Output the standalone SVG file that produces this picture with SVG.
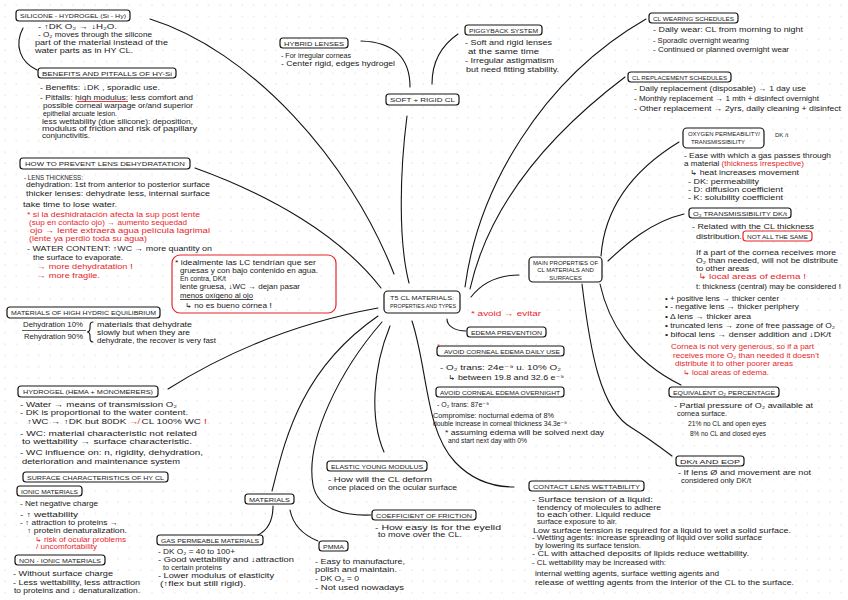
<svg xmlns="http://www.w3.org/2000/svg" width="848" height="600" viewBox="0 0 848 600">
<defs>
<pattern id="dots" x="4" y="4" width="11.3" height="11.3" patternUnits="userSpaceOnUse"><circle cx="1" cy="1" r="0.6" fill="#c9c9c9"/></pattern>
<style>
.bx{fill:none;stroke:#151515;stroke-width:1.2}
.rb{fill:none;stroke:#e8262b;stroke-width:1.2}
.c{fill:none;stroke:#151515;stroke-width:1.1;stroke-linecap:round}
text{font-family:"Liberation Sans","DejaVu Sans",sans-serif;font-size:6.8px;fill:#1a1a1a}
.h{font-size:6px}
.r{fill:#e8262b}
.big{font-size:8px}
</style>
</defs>
<rect width="848" height="600" fill="#ffffff"/>
<rect width="848" height="600" fill="url(#dots)"/>

<g id="connectors">
<path class="c" d="M150,19 C250,50 350,160 394,274"/>
<path class="c" d="M195,168 C270,195 340,235 381,288"/>
<path class="c" d="M168,389 C230,350 300,322 378,308"/>
<path class="c" d="M272,491 C285,440 300,370 378,316"/>
<path class="c" d="M382,322 C340,370 305,440 313,485 C318,510 345,516 371,515"/>
<path class="c" d="M390,326 C372,370 370,420 384,452"/>
<path class="c" d="M412,321 C428,370 425,430 455,462 C472,480 492,487 514,487"/>
<path class="c" d="M447,319 C447,326 455,331 466,331"/>
<path class="c" d="M471,297 C482,283 498,275 519,275"/>
<path class="c" d="M465,287 C478,190 540,80 646,19"/>
<path class="c" d="M470,289 C490,200 555,130 625,77"/>
<path class="c" d="M407,116 C400,170 398,240 409,283"/>
<path class="c" d="M361,41 C390,42 410,55 410,87"/>
<path class="c" d="M432,84 C432,60 442,45 458,34"/>
<path class="c" d="M23,28 C14,45 20,62 37,70"/>
<path class="c" d="M273,506 C273,520 268,530 258,535"/>
<path class="c" d="M290,510 C293,525 303,535 318,541"/>
<path class="c" d="M601,256 C604,215 625,175 679,142"/>
<path class="c" d="M608,261 C625,245 650,222 684,214"/>
<path class="c" d="M600,284 C608,320 630,360 681,385"/>
<path class="c" d="M582,284 C590,350 600,410 632,428 C648,438 660,447 672,456"/>
</g>

<g id="center">
<rect class="bx" x="384" y="291" width="76" height="22" rx="4"/>
<text x="390" y="299.5" class="h" textLength="64" lengthAdjust="spacingAndGlyphs">T5 CL MATERIALS:</text>
<text x="390" y="307.5" class="h" textLength="66" lengthAdjust="spacingAndGlyphs">PROPERTIES AND TYPES</text>
</g>

<g id="silicone">
<rect class="bx" x="16" y="10" width="114" height="11" rx="3"/>
<text x="20" y="18" class="h" textLength="106" lengthAdjust="spacingAndGlyphs">SILICONE - HYDROGEL (Si - Hy)</text>
<text x="38" y="28.5" textLength="79" lengthAdjust="spacingAndGlyphs">- ↑DK O₂ → ↓H₂O.</text>
<text x="38" y="36.5" textLength="114" lengthAdjust="spacingAndGlyphs">- O₂ moves through the silicone</text>
<text x="35" y="44.5" textLength="133" lengthAdjust="spacingAndGlyphs">part of the material instead of the</text>
<text x="35" y="52.5" textLength="98" lengthAdjust="spacingAndGlyphs">water parts as in HY CL.</text>
</g>

<g id="benefits">
<rect class="bx" x="38" y="68" width="138" height="10" rx="3"/>
<text x="42" y="75.5" class="h" textLength="130" lengthAdjust="spacingAndGlyphs">BENEFITS AND PITFALLS OF HY-Si</text>
<text x="40" y="89.5" textLength="120" lengthAdjust="spacingAndGlyphs">- Benefits: ↓DK , sporadic use.</text>
<text x="40" y="99.5" textLength="153" lengthAdjust="spacingAndGlyphs">- Pitfalls: high modulus: less comfort and</text>
<line x1="77" y1="101.5" x2="128" y2="101.5" stroke="#e8262b" stroke-width="0.9"/>
<text x="43" y="107.5" textLength="150" lengthAdjust="spacingAndGlyphs">possible corneal warpage or/and superior</text>
<text x="43" y="115.5" textLength="74" lengthAdjust="spacingAndGlyphs">epithelial arcuate lesion.</text>
<text x="42" y="123.5" textLength="151" lengthAdjust="spacingAndGlyphs">less wettability (due silicone): deposition,</text>
<text x="42" y="130.5" textLength="155" lengthAdjust="spacingAndGlyphs">modulus of friction and risk of papillary</text>
<text x="42" y="137.5" textLength="48" lengthAdjust="spacingAndGlyphs">conjunctivitis.</text>
</g>

<g id="dehydration">
<rect class="bx" x="20" y="158" width="170" height="11" rx="3"/>
<text x="25" y="166" class="h" textLength="160" lengthAdjust="spacingAndGlyphs">HOW TO PREVENT LENS DEHYDRATATION</text>
<text x="24" y="179.5" textLength="59" lengthAdjust="spacingAndGlyphs">- LENS THICKNESS:</text>
<text x="26" y="186.5" textLength="184" lengthAdjust="spacingAndGlyphs">dehydration: 1st from anterior to posterior surface</text>
<text x="26" y="195.5" textLength="184" lengthAdjust="spacingAndGlyphs">thicker lenses: dehydrate less, internal surface</text>
<text x="23" y="207" textLength="94" lengthAdjust="spacingAndGlyphs">take time to lose water.</text>
<text x="27" y="216.5" class="r" textLength="173" lengthAdjust="spacingAndGlyphs">* si la deshidratación afecta la sup post lente</text>
<text x="29" y="224.5" class="r" textLength="158" lengthAdjust="spacingAndGlyphs">(sup en contacto ojo) → aumento sequedad</text>
<text x="30" y="232.5" class="r" textLength="180" lengthAdjust="spacingAndGlyphs">ojo → lente extraerá agua película lagrimal</text>
<text x="29" y="240.5" class="r" textLength="118" lengthAdjust="spacingAndGlyphs">(lente ya perdió toda su agua)</text>
<text x="27" y="250.5" textLength="185" lengthAdjust="spacingAndGlyphs">- WATER CONTENT: ↑WC → more quantity on</text>
<text x="33" y="259.5" textLength="90" lengthAdjust="spacingAndGlyphs">the surface to evaporate.</text>
<text x="37" y="268.5" class="r" textLength="96" lengthAdjust="spacingAndGlyphs">→ more dehydratation <tspan class="big">!</tspan></text>
<text x="37" y="277.5" class="r" textLength="63" lengthAdjust="spacingAndGlyphs">→ more fragile.</text>
</g>

<g id="note-es">
<rect class="rb" x="172" y="255" width="164" height="58" rx="8"/>
<text x="175" y="264.5" textLength="141" lengthAdjust="spacingAndGlyphs">* idealmente las LC tendrían que ser</text>
<text x="180" y="272.5" textLength="138" lengthAdjust="spacingAndGlyphs">gruesas y con bajo contenido en agua.</text>
<text x="180" y="280.5" textLength="46" lengthAdjust="spacingAndGlyphs">En contra, DK/t</text>
<text x="180" y="289" textLength="120" lengthAdjust="spacingAndGlyphs">lente gruesa, ↓WC → dejan pasar</text>
<text x="180" y="297.5" textLength="73" lengthAdjust="spacingAndGlyphs">menos oxígeno al ojo</text>
<line x1="180" y1="299.5" x2="253" y2="299.5" stroke="#1a1a1a" stroke-width="0.8"/>
<text x="185" y="308" textLength="87" lengthAdjust="spacingAndGlyphs">↳ no es bueno córnea <tspan class="big">!</tspan></text>
</g>

<g id="hydric">
<rect class="bx" x="7" y="307" width="153" height="11" rx="3"/>
<text x="11" y="315" class="h" textLength="145" lengthAdjust="spacingAndGlyphs">MATERIALS OF HIGH HYDRIC EQUILIBRIUM</text>
<text x="23" y="326.5" textLength="60" lengthAdjust="spacingAndGlyphs">Dehydration 10%</text>
<line x1="22" y1="330.5" x2="86" y2="330.5" stroke="#1a1a1a" stroke-width="0.7"/>
<text x="24" y="338.5" textLength="59" lengthAdjust="spacingAndGlyphs">Rehydration 90%</text>
<path class="c" stroke-width="0.8" d="M93,322 C90,322 90,324 90,328 C90,331 89,332 87,332 C89,332 90,333 90,336 C90,340 90,342 93,342"/>
<text x="97" y="327" textLength="95" lengthAdjust="spacingAndGlyphs">materials that dehydrate</text>
<text x="97" y="335" textLength="93" lengthAdjust="spacingAndGlyphs">slowly but when they are</text>
<text x="97" y="343" textLength="119" lengthAdjust="spacingAndGlyphs">dehydrate, the recover is very fast</text>
</g>

<g id="hydrogel">
<rect class="bx" x="18" y="386" width="140" height="11" rx="3"/>
<text x="23" y="394" class="h" textLength="130" lengthAdjust="spacingAndGlyphs">HYDROGEL (HEMA + MONOMERERS)</text>
<text x="20" y="406.5" textLength="157" lengthAdjust="spacingAndGlyphs">- Water → means of transmission O₂</text>
<text x="20" y="414.5" textLength="168" lengthAdjust="spacingAndGlyphs">- DK is proportional to the water content.</text>
<text x="27" y="423.5" textLength="180" lengthAdjust="spacingAndGlyphs">↑WC → ↑DK but 80DK <tspan class="r">↛</tspan> CL 100% WC <tspan class="r big">!</tspan></text>
<text x="20" y="435.5" textLength="177" lengthAdjust="spacingAndGlyphs">- WC: material characteristic not related</text>
<text x="22" y="443.5" textLength="170" lengthAdjust="spacingAndGlyphs">to wettability → surface characteristic.</text>
<text x="20" y="454.5" textLength="183" lengthAdjust="spacingAndGlyphs">- WC influence on: n, rigidity, dehydration,</text>
<text x="22" y="463.5" textLength="158" lengthAdjust="spacingAndGlyphs">deterioration and maintenance system</text>
</g>

<g id="surface">
<rect class="bx" x="23" y="472" width="145" height="10" rx="3"/>
<text x="27" y="479.5" class="h" textLength="137" lengthAdjust="spacingAndGlyphs">SURFACE CHARACTERISTICS OF HY CL</text>
</g>

<g id="ionic">
<rect class="bx" x="17" y="486" width="65" height="10" rx="3"/>
<text x="21" y="493.5" class="h" textLength="57" lengthAdjust="spacingAndGlyphs">IONIC MATERIALS</text>
<text x="20" y="505.5" textLength="78" lengthAdjust="spacingAndGlyphs">- Net negative charge</text>
<text x="20" y="516.5" textLength="58" lengthAdjust="spacingAndGlyphs">- ↑ wettability</text>
<text x="20" y="524.5" textLength="98" lengthAdjust="spacingAndGlyphs">- ↑ attraction to proteins →</text>
<text x="27" y="532.5" textLength="100" lengthAdjust="spacingAndGlyphs">↑ protein denaturalization.</text>
<text x="35" y="541.5" class="r" textLength="91" lengthAdjust="spacingAndGlyphs">↳ risk of ocular problems</text>
<text x="36" y="549" class="r" textLength="61" lengthAdjust="spacingAndGlyphs">/ uncomfortability</text>
</g>

<g id="nonionic">
<rect class="bx" x="15" y="555" width="90" height="10" rx="3"/>
<text x="19" y="562.5" class="h" textLength="82" lengthAdjust="spacingAndGlyphs">NON - IONIC MATERIALS</text>
<text x="13" y="575.5" textLength="100" lengthAdjust="spacingAndGlyphs">- Without surface charge</text>
<text x="13" y="584.5" textLength="127" lengthAdjust="spacingAndGlyphs">- Less wettability, less attraction</text>
<text x="14" y="593" textLength="126" lengthAdjust="spacingAndGlyphs">to proteins and ↓ denaturalization.</text>
</g>

<g id="gasperm">
<rect class="bx" x="157" y="535" width="106" height="10" rx="3"/>
<text x="161" y="542.5" class="h" textLength="98" lengthAdjust="spacingAndGlyphs">GAS PERMEABLE MATERIALS</text>
<text x="158" y="553.5" textLength="77" lengthAdjust="spacingAndGlyphs">- DK O₂ = 40 to 100+</text>
<text x="158" y="562" textLength="136" lengthAdjust="spacingAndGlyphs">- Good wettability and ↓attraction</text>
<text x="163" y="569.5" textLength="59" lengthAdjust="spacingAndGlyphs">to certain proteins</text>
<text x="158" y="577.5" textLength="116" lengthAdjust="spacingAndGlyphs">- Lower modulus of elasticity</text>
<text x="160" y="586" textLength="86" lengthAdjust="spacingAndGlyphs">(↑flex but still rigid).</text>
</g>

<g id="materials">
<rect class="bx" x="245" y="494" width="49" height="10" rx="3"/>
<text x="249" y="501.5" class="h" textLength="41" lengthAdjust="spacingAndGlyphs">MATERIALS</text>
</g>

<g id="pmma">
<rect class="bx" x="319" y="541" width="29" height="10" rx="3"/>
<text x="323" y="548.5" class="h" textLength="21" lengthAdjust="spacingAndGlyphs">PMMA</text>
<text x="315" y="563.5" textLength="90" lengthAdjust="spacingAndGlyphs">- Easy to manufacture,</text>
<text x="315" y="571.5" textLength="82" lengthAdjust="spacingAndGlyphs">polish and maintain.</text>
<text x="315" y="580.5" textLength="44" lengthAdjust="spacingAndGlyphs">- DK O₂ = 0</text>
<text x="315" y="589.5" textLength="89" lengthAdjust="spacingAndGlyphs">- Not used nowadays</text>
</g>

<g id="elastic">
<rect class="bx" x="327" y="461" width="100" height="10" rx="3"/>
<text x="331" y="468.5" class="h" textLength="92" lengthAdjust="spacingAndGlyphs">ELASTIC YOUNG MODULUS</text>
<text x="328" y="482" textLength="104" lengthAdjust="spacingAndGlyphs">- How will the CL deform</text>
<text x="328" y="489.5" textLength="129" lengthAdjust="spacingAndGlyphs">once placed on the ocular surface</text>
</g>

<g id="friction">
<rect class="bx" x="372" y="510" width="104" height="10" rx="3"/>
<text x="376" y="517.5" class="h" textLength="96" lengthAdjust="spacingAndGlyphs">COEFFICIENT OF FRICTION</text>
<text x="375" y="529.5" textLength="126" lengthAdjust="spacingAndGlyphs">- How easy is for the eyelid</text>
<text x="378" y="536.5" textLength="84" lengthAdjust="spacingAndGlyphs">to move over the CL.</text>
</g>

<g id="wettability">
<rect class="bx" x="529" y="481" width="115" height="10" rx="3"/>
<text x="533" y="488.5" class="h" textLength="107" lengthAdjust="spacingAndGlyphs">CONTACT LENS WETTABILITY</text>
<text x="532" y="501.5" textLength="121" lengthAdjust="spacingAndGlyphs">- Surface tension of a liquid:</text>
<text x="537" y="509.5" textLength="124" lengthAdjust="spacingAndGlyphs">tendency of molecules to adhere</text>
<text x="537" y="516.5" textLength="114" lengthAdjust="spacingAndGlyphs">to each other. Liquid reduce</text>
<text x="537" y="523.5" textLength="80" lengthAdjust="spacingAndGlyphs">surface exposure to air.</text>
<text x="533" y="532.5" textLength="258" lengthAdjust="spacingAndGlyphs">Low surface tension is required for a liquid to wet a solid surface.</text>
<text x="532" y="539.5" textLength="230" lengthAdjust="spacingAndGlyphs">- Wetting agents: increase spreading of liquid over solid surface</text>
<text x="535" y="547.5" textLength="106" lengthAdjust="spacingAndGlyphs">by lowering its surface tension.</text>
<text x="532" y="555.5" textLength="217" lengthAdjust="spacingAndGlyphs">- CL with attached deposits of lipids reduce wettability.</text>
<text x="532" y="564.5" textLength="134" lengthAdjust="spacingAndGlyphs">- CL wettability may be increased with:</text>
<text x="535" y="575.5" textLength="184" lengthAdjust="spacingAndGlyphs">internal wetting agents, surface wetting agents and</text>
<text x="535" y="584.5" textLength="259" lengthAdjust="spacingAndGlyphs">release of wetting agents from the interior of the CL to the surface.</text>
</g>

<g id="avoid-note">
<text x="471" y="315.5" class="r" textLength="70" lengthAdjust="spacingAndGlyphs">* avoid → evitar</text>
</g>

<g id="edema">
<rect class="bx" x="467" y="327" width="79" height="10" rx="3"/>
<text x="471" y="334.5" class="h" textLength="71" lengthAdjust="spacingAndGlyphs">EDEMA PREVENTION</text>
</g>

<g id="edema-daily">
<rect class="bx" x="437" y="346" width="127" height="10" rx="3"/>
<text x="444" y="353.5" class="h" textLength="116" lengthAdjust="spacingAndGlyphs">AVOID CORNEAL EDEMA DAILY USE</text>
<text x="437" y="348.5" class="r big">*</text>
<text x="440" y="369.5" textLength="121" lengthAdjust="spacingAndGlyphs">- O₂ trans: 24e⁻⁹ u. 10% O₂</text>
<text x="448" y="379.5" textLength="116" lengthAdjust="spacingAndGlyphs">↳ between 19.8 and 32.6 e⁻⁹</text>
</g>

<g id="edema-night">
<rect class="bx" x="436" y="387" width="128" height="10" rx="3"/>
<text x="440" y="394.5" class="h" textLength="120" lengthAdjust="spacingAndGlyphs">AVOID CORNEAL EDEMA OVERNIGHT</text>
<text x="437" y="406.5" textLength="52" lengthAdjust="spacingAndGlyphs">- O₂ trans: 87e⁻⁹</text>
<text x="433" y="417.5" textLength="121" lengthAdjust="spacingAndGlyphs">Compromise: nocturnal edema of 8%</text>
<text x="433" y="425.5" textLength="134" lengthAdjust="spacingAndGlyphs">double increase in corneal thickness 34.3e⁻⁹</text>
<text x="445" y="434.5" textLength="159" lengthAdjust="spacingAndGlyphs">* assuming edema will be solved next day</text>
<text x="448" y="442.5" textLength="79" lengthAdjust="spacingAndGlyphs">and start next day with 0%</text>
</g>

<g id="main-properties">
<rect class="bx" x="529" y="257" width="73" height="25" rx="4"/>
<text x="565.5" y="264.5" class="h" text-anchor="middle">MAIN PROPERTIES OF</text>
<text x="565.5" y="272" class="h" text-anchor="middle">CL MATERIALS AND</text>
<text x="565.5" y="279.5" class="h" text-anchor="middle">SURFACES</text>
</g>

<g id="hybrid">
<rect class="bx" x="280" y="38" width="68" height="10" rx="3"/>
<text x="284" y="45.5" class="h" textLength="60" lengthAdjust="spacingAndGlyphs">HYBRID LENSES</text>
<text x="281" y="57.5" textLength="70" lengthAdjust="spacingAndGlyphs">- For irregular corneas</text>
<text x="281" y="65.5" textLength="114" lengthAdjust="spacingAndGlyphs">- Center rigid, edges hydrogel</text>
</g>

<g id="soft-rigid">
<rect class="bx" x="386" y="94" width="73" height="11" rx="3"/>
<text x="390" y="102" class="h" textLength="65" lengthAdjust="spacingAndGlyphs">SOFT + RIGID CL</text>
</g>

<g id="piggyback">
<rect class="bx" x="465" y="25" width="77" height="10" rx="3"/>
<text x="469" y="32.5" class="h" textLength="69" lengthAdjust="spacingAndGlyphs">PIGGYBACK SYSTEM</text>
<text x="465" y="44.5" textLength="87" lengthAdjust="spacingAndGlyphs">- Soft and rigid lenses</text>
<text x="468" y="53.5" textLength="71" lengthAdjust="spacingAndGlyphs">at the same time</text>
<text x="465" y="62.5" textLength="89" lengthAdjust="spacingAndGlyphs">- Irregular astigmatism</text>
<text x="466" y="71.5" textLength="93" lengthAdjust="spacingAndGlyphs">but need fitting stability.</text>
</g>

<g id="wearing">
<rect class="bx" x="649" y="13" width="89" height="10" rx="3"/>
<text x="653" y="20.5" class="h" textLength="81" lengthAdjust="spacingAndGlyphs">CL WEARING SCHEDULES</text>
<text x="653" y="31.5" textLength="150" lengthAdjust="spacingAndGlyphs">- Daily wear: CL from morning to night</text>
<text x="653" y="42.5" textLength="96" lengthAdjust="spacingAndGlyphs">- Sporadic overnight wearing</text>
<text x="653" y="51.5" textLength="136" lengthAdjust="spacingAndGlyphs">- Continued or planned overnight wear</text>
</g>

<g id="replacement">
<rect class="bx" x="628" y="72" width="103" height="10" rx="3"/>
<text x="632" y="79.5" class="h" textLength="95" lengthAdjust="spacingAndGlyphs">CL REPLACEMENT SCHEDULES</text>
<text x="634" y="90.5" textLength="172" lengthAdjust="spacingAndGlyphs">- Daily replacement (disposable) → 1 day use</text>
<text x="634" y="100.5" textLength="185" lengthAdjust="spacingAndGlyphs">- Monthly replacement → 1 mth + disinfect overnight</text>
<text x="634" y="110.5" textLength="207" lengthAdjust="spacingAndGlyphs">- Other replacement → 2yrs, daily cleaning + disinfect</text>
</g>

<g id="permeability">
<rect class="bx" x="683" y="128" width="81" height="20" rx="4"/>
<text x="688" y="136" class="h" textLength="72" lengthAdjust="spacingAndGlyphs">OXYGEN PERMEABILITY/</text>
<text x="691" y="144" class="h" textLength="54" lengthAdjust="spacingAndGlyphs">TRANSMISSIBILITY</text>
<text x="775" y="137" class="h">DK /t</text>
<text x="684" y="157.5" textLength="147" lengthAdjust="spacingAndGlyphs">- Ease with which a gas passes through</text>
<text x="684" y="165.5" textLength="120" lengthAdjust="spacingAndGlyphs">a material <tspan class="r">(thickness irrespective)</tspan></text>
<text x="690" y="174.5" textLength="109" lengthAdjust="spacingAndGlyphs">↳ heat increases movement</text>
<text x="688" y="183.5" textLength="71" lengthAdjust="spacingAndGlyphs">- DK: permeability</text>
<text x="688" y="191.5" textLength="95" lengthAdjust="spacingAndGlyphs">- D: diffusion coefficient</text>
<text x="688" y="199.5" textLength="95" lengthAdjust="spacingAndGlyphs">- K: solubility coefficient</text>
</g>

<g id="transmissibility">
<rect class="bx" x="689" y="208" width="102" height="10" rx="3"/>
<text x="693" y="215.5" class="h" textLength="94" lengthAdjust="spacingAndGlyphs">O₂ TRANSMISSIBILITY DK/t</text>
<text x="692" y="228.5" textLength="122" lengthAdjust="spacingAndGlyphs">- Related with the CL thickness</text>
<text x="696" y="238.5" textLength="46" lengthAdjust="spacingAndGlyphs">distribution.</text>
<rect class="rb" x="743" y="231" width="69" height="10" rx="3"/>
<text x="747" y="238.5" class="h" textLength="61" lengthAdjust="spacingAndGlyphs">NOT ALL THE SAME</text>
<text x="696" y="254.5" textLength="140" lengthAdjust="spacingAndGlyphs">If a part of the cornea receives more</text>
<text x="696" y="262.5" textLength="142" lengthAdjust="spacingAndGlyphs">O₂ than needed, will not be distribute</text>
<text x="696" y="270.5" textLength="53" lengthAdjust="spacingAndGlyphs">to other areas</text>
<text x="698" y="279" class="r big" textLength="108" lengthAdjust="spacingAndGlyphs">↳ local areas of edema !</text>
<text x="696" y="288.5" textLength="145" lengthAdjust="spacingAndGlyphs">t: thickness (central) may be considered <tspan class="big">!</tspan></text>
<text x="665" y="300.5" textLength="114" lengthAdjust="spacingAndGlyphs">• + positive lens → thicker center</text>
<text x="665" y="308.5" textLength="134" lengthAdjust="spacingAndGlyphs">• - negative lens → thicker periphery</text>
<text x="665" y="318.5" textLength="86" lengthAdjust="spacingAndGlyphs">• Δ lens → thicker area</text>
<text x="665" y="327.5" textLength="170" lengthAdjust="spacingAndGlyphs">• truncated lens → zone of free passage of O₂</text>
<text x="665" y="336.5" textLength="166" lengthAdjust="spacingAndGlyphs">• bifocal lens → denser addition and ↓DK/t</text>
<text x="671" y="348.5" class="r" textLength="143" lengthAdjust="spacingAndGlyphs">Cornea is not very generous, so if a part</text>
<text x="673" y="357.5" class="r" textLength="146" lengthAdjust="spacingAndGlyphs">receives more O₂ than needed it doesn't</text>
<text x="675" y="365.5" class="r" textLength="118" lengthAdjust="spacingAndGlyphs">distribute it to other poorer areas</text>
<text x="683" y="374.5" class="r" textLength="86" lengthAdjust="spacingAndGlyphs">↳ local areas of edema.</text>
</g>

<g id="equivalent">
<rect class="bx" x="669" y="387" width="110" height="10" rx="3"/>
<text x="673" y="394.5" class="h" textLength="102" lengthAdjust="spacingAndGlyphs">EQUIVALENT O₂ PERCENTAGE</text>
<text x="674" y="407.5" textLength="139" lengthAdjust="spacingAndGlyphs">- Partial pressure of O₂ available at</text>
<text x="677" y="415.5" textLength="50" lengthAdjust="spacingAndGlyphs">cornea surface.</text>
<text x="688" y="425.5" textLength="78" lengthAdjust="spacingAndGlyphs">21% no CL and open eyes</text>
<text x="690" y="435.5" textLength="76" lengthAdjust="spacingAndGlyphs">8% no CL and closed eyes</text>
</g>

<g id="dkt-eop">
<rect class="bx" x="676" y="456" width="68" height="10" rx="3"/>
<text x="680" y="463.5" class="h" textLength="60" lengthAdjust="spacingAndGlyphs">DK/t AND EOP</text>
<text x="678" y="474.5" textLength="133" lengthAdjust="spacingAndGlyphs">- If lens Ø and movement are not</text>
<text x="681" y="482.5" textLength="70" lengthAdjust="spacingAndGlyphs">considered only DK/t</text>
</g>
</svg>
